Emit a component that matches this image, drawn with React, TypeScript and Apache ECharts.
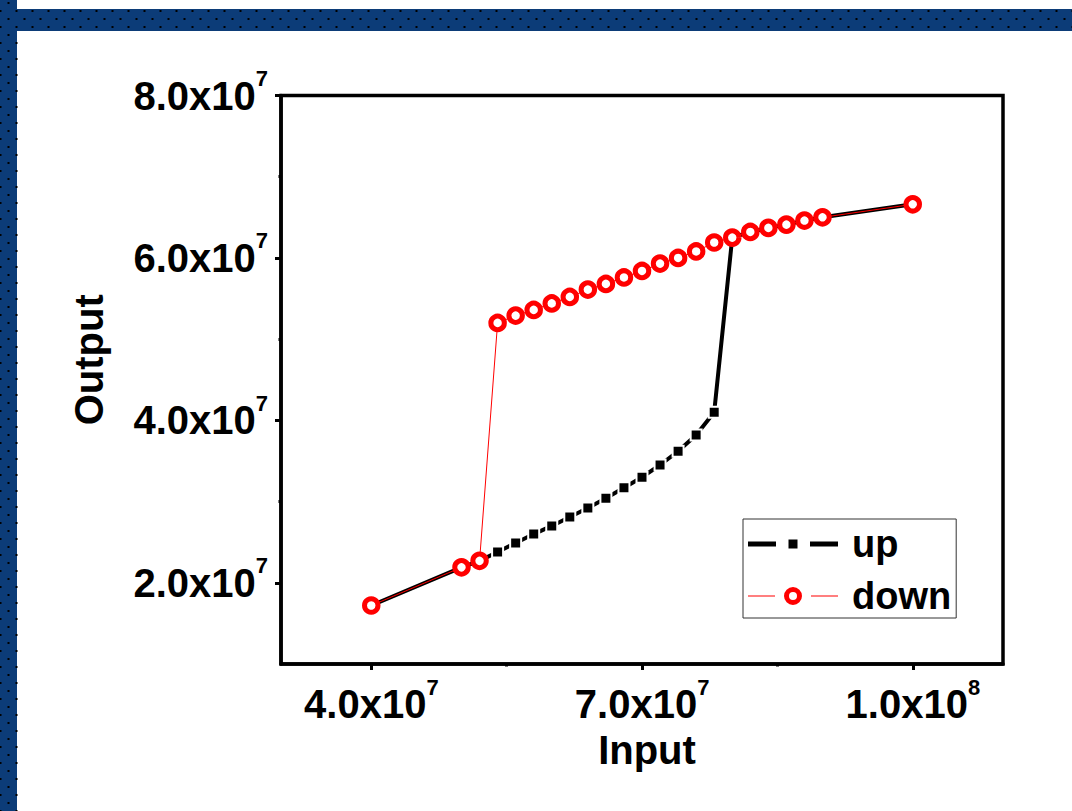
import React, { useEffect, useRef } from 'react';
import * as echarts from 'echarts';

// ---- data ----
const upX = [4.0e7, 5.0e7, 5.2e7, 5.4e7, 5.6e7, 5.8e7, 6.0e7, 6.2e7, 6.4e7, 6.6e7, 6.8e7, 7.0e7, 7.2e7, 7.4e7, 7.6e7, 7.8e7, 8.0e7, 8.2e7, 8.4e7, 8.6e7, 8.8e7, 9.0e7, 1.0e8];
const upY = [1.72e7, 2.19e7, 2.27e7, 2.38e7, 2.49e7, 2.60e7, 2.70e7, 2.81e7, 2.92e7, 3.04e7, 3.17e7, 3.30e7, 3.45e7, 3.62e7, 3.82e7, 4.10e7, 6.25e7, 6.32e7, 6.37e7, 6.41e7, 6.46e7, 6.50e7, 6.66e7];
const downX = [1.0e8, 9.0e7, 8.8e7, 8.6e7, 8.4e7, 8.2e7, 8.0e7, 7.8e7, 7.6e7, 7.4e7, 7.2e7, 7.0e7, 6.8e7, 6.6e7, 6.4e7, 6.2e7, 6.0e7, 5.8e7, 5.6e7, 5.4e7, 5.2e7, 5.0e7, 4.0e7];
const downY = [6.66e7, 6.50e7, 6.46e7, 6.41e7, 6.37e7, 6.32e7, 6.25e7, 6.19e7, 6.08e7, 6.00e7, 5.93e7, 5.84e7, 5.76e7, 5.68e7, 5.61e7, 5.52e7, 5.44e7, 5.36e7, 5.29e7, 5.20e7, 2.27e7, 2.19e7, 1.72e7];

const xMajorTicks = [4e7, 7e7, 1e8];
const xMinorTicks = [5.5e7, 8.5e7];
const yMajorTicks = [2e7, 4e7, 6e7, 8e7];
const yMinorTicks = [3e7, 5e7, 7e7];
const xMin = 3e7, xMax = 1.1e8, yMin = 1e7, yMax = 8e7;

const seriesNames = ['up', 'down'];
const xName = 'Input';
const yName = 'Output';

// ---- decoration (dotted blue frame) ----
const BLUE = '#0c3c78';
let dotPath = '';
const addDot = (x: number, y: number) => {
  if (((x / 8) + (y - 3) / 8) % 2 === 1) dotPath += `M${x - 0.5} ${y - 1}h2v2h-2z`;
};
for (const y of [11, 19, 27]) for (let x = 24; x <= 1080; x += 8) addDot(x, y);
for (const x of [0, 8, 16]) for (let y = 3; y <= 811; y += 8) addDot(x, y);
echarts.graphic.registerShape('frameDots', echarts.graphic.extendPath(dotPath, {}));

const FONT = '"Liberation Sans", Arial, sans-serif';

const sci = (v: number) => {
  const e = Math.floor(Math.log10(v) + 1e-9);
  const m = v / Math.pow(10, e);
  return `{s| }{m|${m.toFixed(1)}x10}{e|${e}}`;
};
const rich = {
  s: { fontSize: 1, lineHeight: 56, verticalAlign: 'middle', color: 'rgba(0,0,0,0)' },
  m: { fontSize: 40, fontWeight: 'bold', fontFamily: FONT, color: '#000', lineHeight: 40, verticalAlign: 'middle' },
  e: { fontSize: 22, fontWeight: 'bold', fontFamily: FONT, color: '#000', lineHeight: 22, verticalAlign: 'top' },
};

const upIcon = 'path://M0 6.5H28V11.5H0Z M40.5 4.5H49.5V13.5H40.5Z M62 6.5H90V11.5H62Z';
const downIcon = 'path://M0 8.5H27V9.5H0Z M63 8.5H90V9.5H63Z M54 9A9 9 0 1 0 36 9A9 9 0 1 0 54 9Z M49 9A4 4 0 1 1 41 9A4 4 0 1 1 49 9Z';

export default function App() {
  const ref = useRef<HTMLDivElement>(null);
  useEffect(() => {
    if (!ref.current) return;
    const chart = echarts.init(ref.current, null, { renderer: 'svg' });
    const axisLine = { show: true, onZero: false, lineStyle: { color: '#000', width: 3.5 } };
    const tickStyle = { color: '#000', width: 3 };
    const nameStyle = { fontSize: 40, fontWeight: 'bold', fontFamily: FONT, color: '#000' };
    chart.setOption({
      animation: false,
      backgroundColor: '#fff',
      graphic: [
        { type: 'rect', shape: { x: 0, y: 9, width: 1072, height: 22 }, style: { fill: BLUE }, silent: true },
        { type: 'rect', shape: { x: 0, y: 0, width: 17, height: 811 }, style: { fill: BLUE }, silent: true },
        { type: 'frameDots', x: 0, y: 0, scaleX: 1, scaleY: 1, style: { fill: '#000' }, silent: true },
      ],
      grid: { left: 281, right: 69, top: 95.5, bottom: 147, show: true, borderColor: '#000', borderWidth: 3.5 },
      legend: {
        orient: 'vertical', left: 743, top: 519, padding: [3, 5, 0, 5], itemGap: 8,
        itemWidth: 90, itemHeight: 18, backgroundColor: '#fff', borderColor: '#333', borderWidth: 1,
        selectedMode: false,
        textStyle: { fontSize: 38, fontWeight: 'bold', fontFamily: FONT, color: '#000', lineHeight: 44, padding: [0, 0, 0, 9] },
        data: [
          { name: seriesNames[0], icon: upIcon, itemStyle: { color: '#000', borderWidth: 0 } },
          { name: seriesNames[1], icon: downIcon, itemStyle: { color: '#ff0000', borderWidth: 0 } },
        ],
      },
      xAxis: [
        {
          type: 'value', min: xMin, max: xMax, position: 'bottom', axisLine,
          axisTick: { show: true, customValues: xMajorTicks, length: 6, lineStyle: tickStyle },
          axisLabel: { customValues: xMajorTicks, formatter: sci, margin: 12, rich },
          splitLine: { show: false },
          name: xName, nameLocation: 'middle', nameGap: 66,
          nameTextStyle: { ...nameStyle, padding: [0, 0, 0, 10] },
        },
        {
          type: 'value', min: xMin, max: xMax, position: 'bottom',
          axisLine: { show: false },
          axisTick: { show: true, customValues: xMinorTicks, length: 2.5, lineStyle: tickStyle },
          axisLabel: { show: false }, splitLine: { show: false },
        },
      ],
      yAxis: [
        {
          type: 'value', min: yMin, max: yMax, position: 'left', axisLine,
          axisTick: { show: true, customValues: yMajorTicks, length: 6, lineStyle: tickStyle },
          axisLabel: { customValues: yMajorTicks, formatter: sci, margin: 13, rich },
          splitLine: { show: false },
          name: yName, nameLocation: 'middle', nameGap: 172,
          nameTextStyle: { ...nameStyle, padding: [0, 0, 0, 40] },
        },
        {
          type: 'value', min: yMin, max: yMax, position: 'left',
          axisLine: { show: false },
          axisTick: { show: true, customValues: yMinorTicks, length: 2.5, lineStyle: tickStyle },
          axisLabel: { show: false }, splitLine: { show: false },
        },
      ],
      series: [
        {
          name: seriesNames[0], type: 'line', xAxisIndex: 0, yAxisIndex: 0,
          data: upX.map((x, i) => [x, upY[i]]),
          symbol: 'rect', symbolSize: 11,
          lineStyle: { color: '#000', width: 4 },
          itemStyle: { color: '#000', borderColor: '#fff', borderWidth: 2 },
        },
        {
          name: seriesNames[1], type: 'line', xAxisIndex: 0, yAxisIndex: 0,
          data: downX.map((x, i) => [x, downY[i]]),
          symbol: 'circle', symbolSize: 13.5,
          lineStyle: { color: '#ff0000', width: 1 },
          itemStyle: { color: '#ffffff', borderColor: '#ff0000', borderWidth: 5 },
        },
      ],
    });
    return () => chart.dispose();
  }, []);
  return <div ref={ref} style={{ position: 'fixed', left: 0, top: 0, width: 1072, height: 811, background: '#fff' }} />;
}
